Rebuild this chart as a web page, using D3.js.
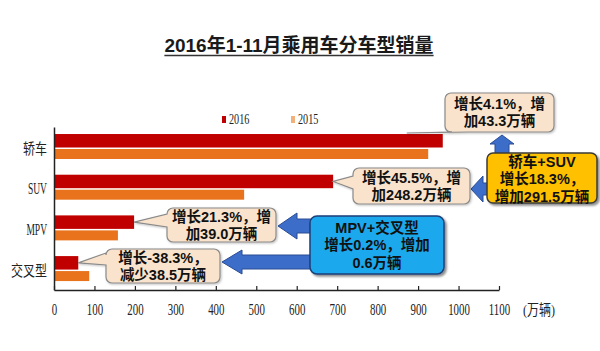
<!DOCTYPE html>
<html><head><meta charset="utf-8">
<script src="https://cdn.jsdelivr.net/npm/d3@7/dist/d3.min.js"></script>
<style>
html,body{margin:0;padding:0;background:#fff;}
svg{display:block;}
</style></head>
<body>
<svg id="chart" width="600" height="351"></svg>
<script>
// ---- data ----
const title = "2016年1-11月乘用车分车型销量";
const categories = ["轿车", "SUV", "MPV", "交叉型"];
const sales2016 = [961, 690, 198, 60];
const sales2015 = [925, 470, 158, 87];
const seriesNames = ["2016", "2015"];
const xTickValues = [0, 100, 200, 300, 400, 500, 600, 700, 800, 900, 1000, 1100];
const unitLabel = "(万辆)";
const growthNotes = [
  ["增长4.1%，增", "加43.3万辆"],
  ["增长45.5%，增", "加248.2万辆"],
  ["增长21.3%，增", "加39.0万辆"],
  ["增长-38.3%，", "减少38.5万辆"]
];
const sedanSuvNote = ["轿车+SUV", "增长18.3%，", "增加291.5万辆"];
const mpvCrossNote = ["MPV+交叉型", "增长0.2%，增加", "0.6万辆"];

// ---- styles ----
const RED = "#c00000", ORANGE = "#e8731c";
const NOTE_FILL = "#fae3cc", NOTE_STROKE = "#8a8a8a";
const ARROW_FILL = "#3c6dc8", ARROW_STROKE = "#2a4d96";
const BOLD_FONT = "'Liberation Sans', Arial, 'Noto Sans CJK SC', sans-serif";
const SERIF_FONT = "'Liberation Serif', 'Times New Roman', 'Noto Sans CJK SC', serif";

const svg = d3.select("#chart");
const defs = svg.append("defs");
const f = defs.append("filter").attr("id", "shadow").attr("x", "-10%").attr("y", "-10%").attr("width", "130%").attr("height", "140%");
f.append("feDropShadow").attr("dx", 2).attr("dy", 2).attr("stdDeviation", 1.2).attr("flood-color", "#000").attr("flood-opacity", 0.45);
const f2 = defs.append("filter").attr("id", "shadowLight").attr("x", "-10%").attr("y", "-10%").attr("width", "130%").attr("height", "140%");
f2.append("feDropShadow").attr("dx", 1).attr("dy", 1).attr("stdDeviation", 1).attr("flood-color", "#000").attr("flood-opacity", 0.25);

// ---- scales ----
const x = d3.scaleLinear().domain([0, 1100]).range([54, 499]);
const y = d3.scaleBand().domain(categories).range([127, 290])
  .paddingInner(0.386).paddingOuter(0.196).align(0.44);
const bw = y.bandwidth();
const redH = bw * 0.54, orangeY = bw * 0.6, orangeH = bw * 0.4;

// ---- title ----
const t = svg.append("text").attr("x", 299).attr("y", 52)
  .attr("text-anchor", "middle").attr("font-family", BOLD_FONT)
  .attr("font-weight", "bold").attr("font-size", 19).attr("fill", "#1a1a1a").text(title);
const tw = t.node().getComputedTextLength();
svg.append("line").attr("x1", 299 - tw / 2).attr("x2", 299 + tw / 2)
  .attr("y1", 55.5).attr("y2", 55.5).attr("stroke", "#333").attr("stroke-width", 1.5);

// ---- legend ----
const legendX = [222, 291];
seriesNames.forEach((s, i) => {
  svg.append("rect").attr("x", legendX[i]).attr("y", 116).attr("width", 4).attr("height", 7)
    .attr("fill", i === 0 ? RED : "#f2b07a");
  svg.append("text").attr("transform", `translate(${legendX[i] + 7},124) scale(0.68,1)`)
    .attr("font-family", SERIF_FONT).attr("font-size", 15).attr("fill", "#222").text(s);
});

// ---- bars ----
const g = svg.append("g");
g.selectAll(".b16").data(categories).join("rect")
  .attr("x", x(0)).attr("y", (d) => y(d))
  .attr("width", (d, i) => x(sales2016[i]) - x(0)).attr("height", redH).attr("fill", RED);
g.selectAll(".b15").data(categories).join("rect")
  .attr("x", x(0)).attr("y", (d) => y(d) + orangeY)
  .attr("width", (d, i) => x(sales2015[i]) - x(0)).attr("height", orangeH).attr("fill", ORANGE);

// ---- axes ----
const xAxis = svg.append("g").attr("transform", "translate(0,290)")
  .call(d3.axisBottom(x).tickValues(xTickValues).tickFormat(d3.format("d"))
    .tickSize(-4).tickSizeOuter(0).tickPadding(14));
xAxis.select(".domain").attr("stroke", "#222").attr("stroke-width", 1.5);
xAxis.selectAll(".tick line").attr("stroke", "#222").attr("stroke-width", 1.2);
xAxis.selectAll(".tick text").attr("font-family", SERIF_FONT).attr("font-size", 16)
  .attr("fill", "#222").attr("x", 0).attr("transform", "scale(0.68,1)");
svg.append("text").attr("transform", "translate(523,315) scale(0.8,1)")
  .attr("font-family", SERIF_FONT).attr("font-size", 15).attr("fill", "#222").text(unitLabel);

const yAxis = svg.append("g").attr("transform", `translate(${x(0)},0)`)
  .call(d3.axisLeft(y).tickSize(0).tickSizeOuter(0).tickPadding(0));
yAxis.select(".domain").attr("stroke", "#222").attr("stroke-width", 1.5);
yAxis.selectAll(".tick text").attr("x", null).attr("dy", null)
  .attr("font-family", SERIF_FONT).attr("fill", "#222")
  .attr("font-size", (d) => /[A-Z]/.test(d) ? 17 : 15)
  .attr("transform", (d) => `translate(-7,7) scale(${/[A-Z]/.test(d) ? 0.56 : 0.8},1)`)
  .attr("text-anchor", "end");

// ---- callouts ----
function calloutPath(bx, by, w, h, r, side, a, b, tx, ty) {
  let p = `M${bx + r},${by}H${bx + w - r}A${r},${r} 0 0 1 ${bx + w},${by + r}V${by + h - r}A${r},${r} 0 0 1 ${bx + w - r},${by + h}`;
  if (side === "bottom") p += `H${b}L${tx},${ty}L${a},${by + h}`;
  p += `H${bx + r}A${r},${r} 0 0 1 ${bx},${by + h - r}`;
  if (side === "left") p += `V${b}L${tx},${ty}L${bx},${a}`;
  p += `V${by + r}A${r},${r} 0 0 1 ${bx + r},${by}Z`;
  return p;
}
function textBlock(lines, cx, cy, lh, size) {
  const n = lines.length;
  lines.forEach((s, i) => {
    svg.append("text").attr("x", cx).attr("y", cy + (i - (n - 1) / 2) * lh)
      .attr("dy", "0.36em").attr("text-anchor", "middle")
      .attr("font-family", BOLD_FONT).attr("font-weight", "bold")
      .attr("font-size", size).attr("fill", "#111").text(s);
  });
}
function arrowLeft(tipX, cy, headLen, headHalf, shaftHalf, endX) {
  const d = `M${tipX},${cy}L${tipX + headLen},${cy - headHalf}V${cy - shaftHalf}H${endX}V${cy + shaftHalf}H${tipX + headLen}V${cy + headHalf}Z`;
  svg.append("path").attr("d", d).attr("fill", ARROW_FILL).attr("stroke", ARROW_STROKE).attr("stroke-width", 1);
}
function arrowUp(cx, tipY, headLen, headHalf, shaftHalf, endY) {
  const d = `M${cx},${tipY}L${cx + headHalf},${tipY + headLen}H${cx + shaftHalf}V${endY}H${cx - shaftHalf}V${tipY + headLen}H${cx - headHalf}Z`;
  svg.append("path").attr("d", d).attr("fill", ARROW_FILL).attr("stroke", ARROW_STROKE).attr("stroke-width", 1);
}

// arrows (drawn behind the group boxes)
arrowUp(502, 135, 9, 12, 7, 156);
arrowLeft(471, 189, 12, 13, 6, 490);
arrowLeft(278, 226, 19, 13, 7, 314);
arrowLeft(222, 262, 20, 12, 7, 314);

// per-category notes: box geometry (annotation layout), tip anchored on the bar end
const noteBoxes = [
  { bx: 445, by: 93, w: 109, h: 39, side: "bottom", a: 452, b: 468 },
  { bx: 353, by: 168, w: 117, h: 36, side: "left", a: 176, b: 189 },
  { bx: 167, by: 208, w: 109, h: 34, side: "left", a: 214, b: 227 },
  { bx: 106, by: 249, w: 114, h: 34, side: "left", a: 253, b: 265 }
];
noteBoxes.forEach((nb, i) => {
  const c = categories[i];
  const tipX = i === 0 ? x(sales2016[i]) - 36 : x(sales2016[i]);
  const tipY = i === 0 ? y(c) - 1 : y(c) + redH / 2;
  svg.append("path").attr("d", calloutPath(nb.bx, nb.by, nb.w, nb.h, 6, nb.side, nb.a, nb.b, tipX, tipY))
    .attr("fill", NOTE_FILL).attr("stroke", NOTE_STROKE).attr("stroke-width", 1.2)
    .attr("filter", "url(#shadowLight)");
  textBlock(growthNotes[i], nb.bx + nb.w / 2, nb.by + nb.h / 2, 17, 14.5);
});

// group boxes
svg.append("rect").attr("x", 487).attr("y", 153).attr("width", 110).attr("height", 50).attr("rx", 6)
  .attr("fill", "#ffc000").attr("stroke", "#3a3a3a").attr("stroke-width", 1.5).attr("filter", "url(#shadow)");
textBlock(sedanSuvNote, 542, 179, 17.5, 14.5);

svg.append("rect").attr("x", 310).attr("y", 216).attr("width", 134).attr("height", 58).attr("rx", 7)
  .attr("fill", "#1fa8ec").attr("stroke", "#1d3f78").attr("stroke-width", 1.5).attr("filter", "url(#shadow)");
textBlock(mpvCrossNote, 377, 245, 17.5, 14.5);
</script>
</body></html>
